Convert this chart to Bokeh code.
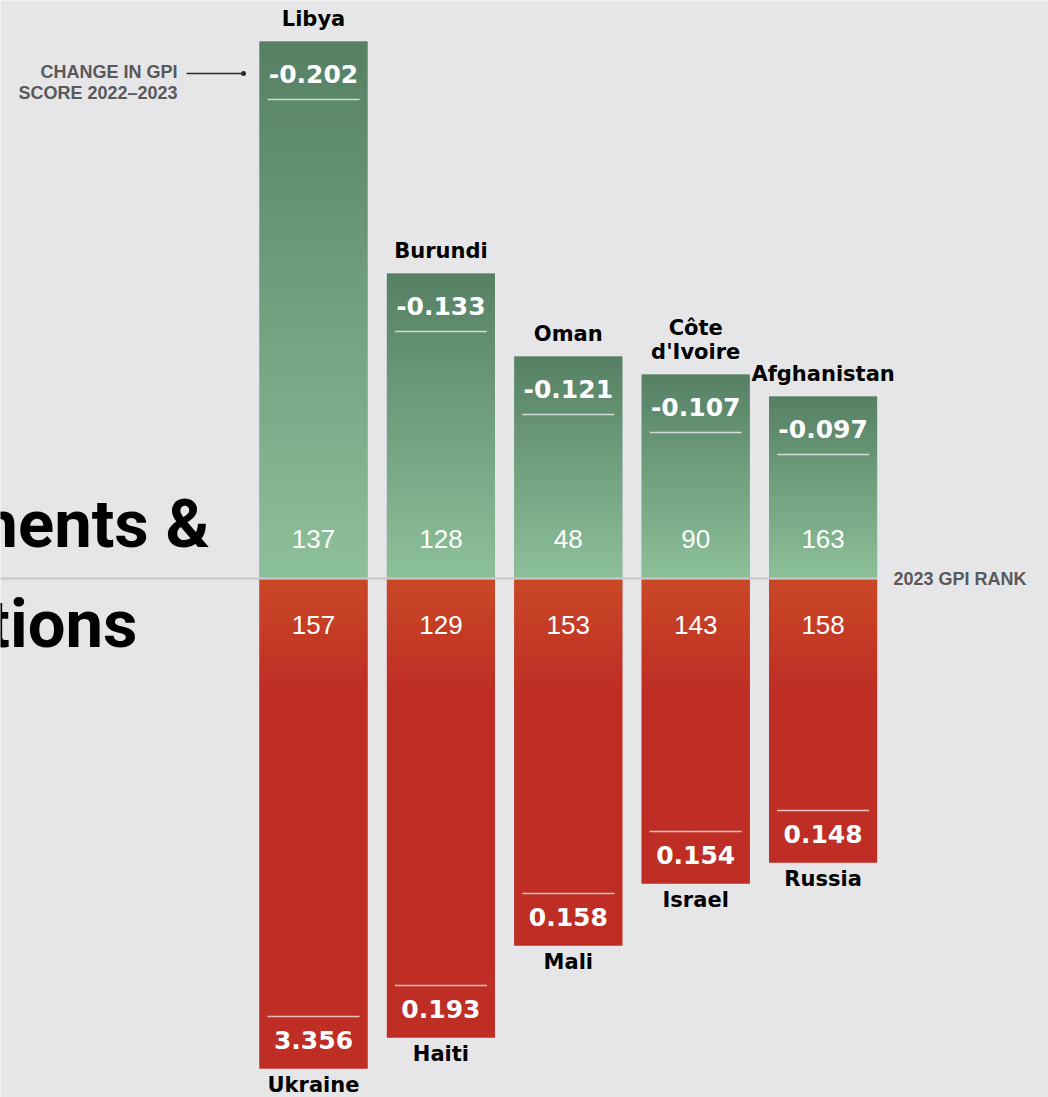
import numpy as np
from bokeh.plotting import figure
from bokeh.models import Range1d
from bokeh.core.properties import value
from bokeh.embed import file_html
from bokeh.resources import INLINE

# ---------------- data ----------------
improve_countries = ["Libya", "Burundi", "Oman", "Côte d'Ivoire", "Afghanistan"]
improve_change = [-0.202, -0.133, -0.121, -0.107, -0.097]
improve_rank = [137, 128, 48, 90, 163]
improve_bar = [537, 305, 222, 204, 182]        # displayed bar length (chart units)

deteriorate_countries = ["Ukraine", "Haiti", "Mali", "Israel", "Russia"]
deteriorate_change = [3.356, 0.193, 0.158, 0.154, 0.148]
deteriorate_rank = [157, 129, 153, 143, 158]
deteriorate_bar = [490, 459, 367, 305, 284]    # displayed bar length (chart units)

title_lines = ["Improvements &", "Deteriorations"]
score_note = ["CHANGE IN GPI", "SCORE 2022\u20132023"]
rank_note = "2023 GPI RANK"

# ---------------- style ----------------
BG = "#e6e6e8"
GREEN_TOP = (86, 128, 100)
GREEN_BOT = (140, 192, 154)
RED_TOP = (202, 72, 38)
RED_MAIN = (190, 46, 37)
W = 1048
H = 1097
STEP = 127.4          # px per slot
C0 = 313              # px of first slot centre
XS = -C0 / STEP
XE = XS + W / STEP
Y_TOP = 578
BAR_W = 108 / STEP
PAD = 8 / STEP
K = 0.37              # baseline correction (em)
GR = 110              # depth of the red gradient


def hexc(c):
    return "#%02x%02x%02x" % tuple(int(round(v)) for v in c)


def mix(a, b, t):
    return tuple(a[i] + (b[i] - a[i]) * t for i in range(3))


def X(px):  # page pixel -> data x
    return (px - C0) / STEP


def Y(py):  # page pixel -> data y
    return Y_TOP - py


def BL(y, size):  # alphabetic baseline correction
    return y + K * size


def gradient(rows, color_at):
    img = np.empty((rows, 1), dtype=np.uint32)
    view = img.view(dtype=np.uint8).reshape((rows, 1, 4))
    for r in range(rows):
        c = color_at(r)
        view[r, 0, 0] = int(round(c[0]))
        view[r, 0, 1] = int(round(c[1]))
        view[r, 0, 2] = int(round(c[2]))
        view[r, 0, 3] = 255
    return img


p = figure(width=W, height=H, output_backend="svg", toolbar_location=None,
           x_range=Range1d(XS, XE), y_range=Range1d(Y_TOP - H, Y_TOP),
           min_border=0)
p.axis.visible = False
p.grid.visible = False
p.outline_line_color = None
p.background_fill_color = BG
p.border_fill_color = BG

BOLD = value("DejaVu Sans")
SANS = value("Liberation Sans")
TITLE = value("Roboto")

# ---------------- title (cropped at the left edge) ----------------
TS = 67
p.text(x=[X(209)], y=[BL(Y(548), TS)], text=[title_lines[0]],
       text_align="right", text_baseline="alphabetic", text_font=TITLE,
       text_font_style="bold", text_font_size="%dpx" % TS, text_color="#000000")
p.text(x=[X(137)], y=[BL(Y(648), TS)], text=[title_lines[1]],
       text_align="right", text_baseline="alphabetic", text_font=TITLE,
       text_font_style="bold", text_font_size="%dpx" % TS, text_color="#000000")

idx = list(range(len(improve_bar)))

# ---------------- bars ----------------
p.vbar(x=idx, width=BAR_W, bottom=1, top=improve_bar,
       fill_color=hexc(mix(GREEN_BOT, GREEN_TOP, 0.5)), line_color=None)
p.vbar(x=idx, width=BAR_W, top=-1, bottom=[-L for L in deteriorate_bar],
       fill_color=hexc(RED_MAIN), line_color=None)

# gradient skins on top of the bars
for i, L in enumerate(improve_bar):
    rows = L - 1
    img = gradient(rows, lambda r, rows=rows: mix(GREEN_BOT, GREEN_TOP, (r + 0.5) / rows))
    p.image_rgba(image=[img], x=i - BAR_W / 2, y=1, dw=BAR_W, dh=rows)
for i, L in enumerate(deteriorate_bar):
    rows = L - 1
    img = gradient(rows, lambda r, rows=rows: mix(RED_TOP, RED_MAIN,
                                                  min((rows - r - 0.5) / GR, 1.0)))
    p.image_rgba(image=[img], x=i - BAR_W / 2, y=-L, dw=BAR_W, dh=rows)

# ---------------- baseline ----------------
p.segment(x0=[XS], x1=[len(improve_bar) - 1 + BAR_W / 2], y0=[0], y1=[0],
          line_color="#c4c5c7", line_width=2)

# ---------------- separator lines inside bars ----------------
p.segment(x0=[i - BAR_W / 2 + PAD for i in idx], x1=[i + BAR_W / 2 - PAD for i in idx],
          y0=[L - 58 for L in improve_bar], y1=[L - 58 for L in improve_bar],
          line_color="#ffffff", line_alpha=0.7, line_width=1.3)
p.segment(x0=[i - BAR_W / 2 + PAD for i in idx], x1=[i + BAR_W / 2 - PAD for i in idx],
          y0=[-L + 52 for L in deteriorate_bar], y1=[-L + 52 for L in deteriorate_bar],
          line_color="#ffffff", line_alpha=0.7, line_width=1.3)

# ---------------- score labels ----------------
SS = 25
p.text(x=idx, y=[BL(L - 42, SS) for L in improve_bar], text=["%.3f" % v for v in improve_change],
       text_align="center", text_baseline="alphabetic", text_font=BOLD,
       text_font_style="bold", text_font_size="%dpx" % SS, text_color="#ffffff")
p.text(x=idx, y=[BL(-L + 19, SS) for L in deteriorate_bar], text=["%.3f" % v for v in deteriorate_change],
       text_align="center", text_baseline="alphabetic", text_font=BOLD,
       text_font_style="bold", text_font_size="%dpx" % SS, text_color="#ffffff")

# ---------------- rank labels ----------------
RS = 26
p.text(x=idx, y=[BL(30, RS)] * len(idx), text=[str(r) for r in improve_rank],
       text_align="center", text_baseline="alphabetic", text_font=SANS,
       text_font_size="%dpx" % RS, text_color="#ffffff")
p.text(x=idx, y=[BL(-56, RS)] * len(idx), text=[str(r) for r in deteriorate_rank],
       text_align="center", text_baseline="alphabetic", text_font=SANS,
       text_font_size="%dpx" % RS, text_color="#ffffff")

# ---------------- country names ----------------
NS = 21
nx, ny, nt = [], [], []
for i, (name, L) in enumerate(zip(improve_countries, improve_bar)):
    parts = name.split(" ")
    for j, part in enumerate(reversed(parts)):
        nx.append(i)
        ny.append(BL(L + 15 + 24 * j, NS))
        nt.append(part)
for i, (name, L) in enumerate(zip(deteriorate_countries, deteriorate_bar)):
    nx.append(i)
    ny.append(BL(-L - 24, NS))
    nt.append(name)
p.text(x=nx, y=ny, text=nt, text_align="center", text_baseline="alphabetic",
       text_font=BOLD, text_font_style="bold", text_font_size="%dpx" % NS,
       text_color="#000000")

# ---------------- notes ----------------
AS = 18
p.text(x=[X(177)] * 2, y=[BL(Y(78), AS), BL(Y(99), AS)], text=score_note, text_align="right",
       text_baseline="alphabetic", text_font=SANS, text_font_style="bold",
       text_font_size="%dpx" % AS, text_color="#58595b")
p.segment(x0=[X(186)], x1=[X(243)], y0=[Y(73)], y1=[Y(73)],
          line_color="#2b2b2b", line_width=1.3)
p.scatter(x=[X(243)], y=[Y(73)], size=5, fill_color="#2b2b2b", line_color=None)
p.text(x=[X(893)], y=[BL(Y(585), AS)], text=[rank_note], text_align="left",
       text_baseline="alphabetic", text_font=SANS, text_font_style="bold",
       text_font_size="%dpx" % AS, text_color="#58595b")

open("out.html", "w").write(file_html(p, INLINE))
